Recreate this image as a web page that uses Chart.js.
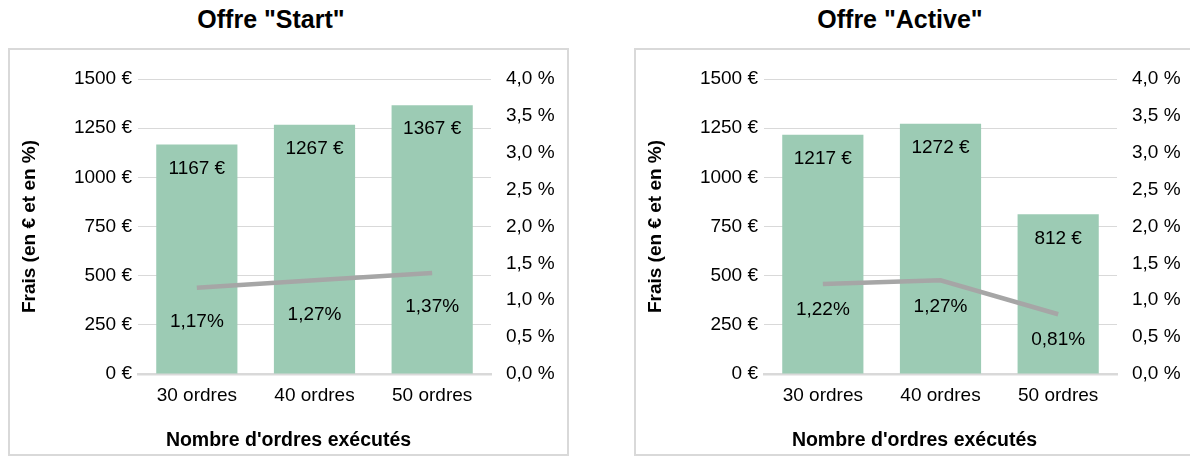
<!DOCTYPE html>
<html><head><meta charset="utf-8">
<script src="https://cdn.jsdelivr.net/npm/chart.js@4"></script>
<style>
html,body{margin:0;padding:0;background:#fff;width:1190px;height:456px;overflow:hidden;font-family:'Liberation Sans',Arial,sans-serif;color:#000;}
.title{position:absolute;top:0;width:542px;height:38px;line-height:38px;font-size:25px;font-weight:bold;text-align:center;white-space:nowrap;}
.box{position:absolute;top:48px;width:557px;height:404px;border:2px solid #d9d9d9;}
.box canvas{position:absolute;left:0;top:0;}
.xtitle{position:absolute;left:0;width:557px;top:377px;height:24px;line-height:24px;font-size:19.5px;font-weight:bold;text-align:center;white-space:nowrap;}
</style>
</head><body>
<div class="title" style="left:0px;">Offre "Start"</div>
<div class="title" style="left:629px;">Offre "Active"</div>
<div class="box" style="left:8px;"><canvas id="c1" width="557" height="404"></canvas><div class="xtitle">Nombre d'ordres exécutés</div></div>
<div class="box" style="left:634px;"><canvas id="c2" width="557" height="404"></canvas><div class="xtitle">Nombre d'ordres exécutés</div></div>
<script>
const categories = ['30 ordres', '40 ordres', '50 ordres'];
const startFees = [1167, 1267, 1367];
const startRates = [1.17, 1.27, 1.37];
const activeFees = [1217, 1272, 812];
const activeRates = [1.22, 1.27, 0.81];
const feeTickLabels = ['0 €', '250 €', '500 €', '750 €', '1000 €', '1250 €', '1500 €'];
const rateTickLabels = ['0,0 %', '0,5 %', '1,0 %', '1,5 %', '2,0 %', '2,5 %', '3,0 %', '3,5 %', '4,0 %'];

const FONT = "'Liberation Sans', Arial, sans-serif";
Chart.defaults.font.family = FONT;
Chart.defaults.color = '#000';

const labelPlugin = {
  id: 'vlabels',
  afterDatasetsDraw(chart, args, opts) {
    const ctx = chart.ctx;
    ctx.save();
    ctx.font = '19px ' + FONT;
    ctx.fillStyle = '#000';
    ctx.textAlign = 'center';
    ctx.textBaseline = 'middle';
    const lineMeta = chart.getDatasetMeta(0);
    const barMeta = chart.getDatasetMeta(1);
    barMeta.data.forEach((el, i) => {
      ctx.fillText(chart.data.datasets[1].data[i] + ' €', el.x, el.y + 24);
    });
    lineMeta.data.forEach((el, i) => {
      const v = chart.data.datasets[0].data[i];
      ctx.fillText(v.toFixed(2).replace('.', ',') + '%', el.x, el.y + opts.lineOffset);
    });
    ctx.restore();
  }
};

function makeChart(id, fees, rates, lineOffset) {
  return new Chart(document.getElementById(id), {
    data: {
      labels: categories,
      datasets: [
        { type: 'line', data: rates, yAxisID: 'y1', borderColor: '#a6a6a6', borderWidth: 4.5,
          pointRadius: 0, tension: 0, borderCapStyle: 'butt', order: 0 },
        { type: 'bar', data: fees, yAxisID: 'y', backgroundColor: '#9ccbb4',
          categoryPercentage: 1, barPercentage: 0.69, order: 1 }
      ]
    },
    options: {
      responsive: false, animation: false, events: [],
      layout: { padding: { top: 29, left: 0, right: 0, bottom: 0 } },
      plugins: { legend: { display: false }, tooltip: { enabled: false }, vlabels: { lineOffset: lineOffset } },
      scales: {
        x: {
          grid: { display: false, drawTicks: false },
          border: { display: true, color: '#d9d9d9', width: 2.5 },
          ticks: { padding: 10, font: { size: 19 }, color: '#000' },
          afterFit: s => { s.height = 80; }
        },
        y: {
          position: 'left', min: 0, max: 1500,
          ticks: { stepSize: 250, padding: 6, font: { size: 19 }, color: '#000',
                   callback: (v, i) => feeTickLabels[i] },
          grid: { color: '#d9d9d9', lineWidth: 1, drawTicks: false },
          border: { display: false },
          title: { display: true, text: 'Frais (en € et en %)', color: '#000',
                   font: { size: 19, weight: 'bold' }, padding: { top: 8, bottom: 0 } },
          afterFit: s => { s.width = 128; }
        },
        y1: {
          position: 'right', min: 0, max: 4,
          ticks: { stepSize: 0.5, padding: 15, font: { size: 19 }, color: '#000',
                   callback: (v, i) => rateTickLabels[i] },
          grid: { display: false, drawTicks: false },
          border: { display: false },
          afterFit: s => { s.width = 76; }
        }
      }
    },
    plugins: [labelPlugin]
  });
}

makeChart('c1', startFees, startRates, 34);
makeChart('c2', activeFees, activeRates, 26);
</script>
</body></html>
